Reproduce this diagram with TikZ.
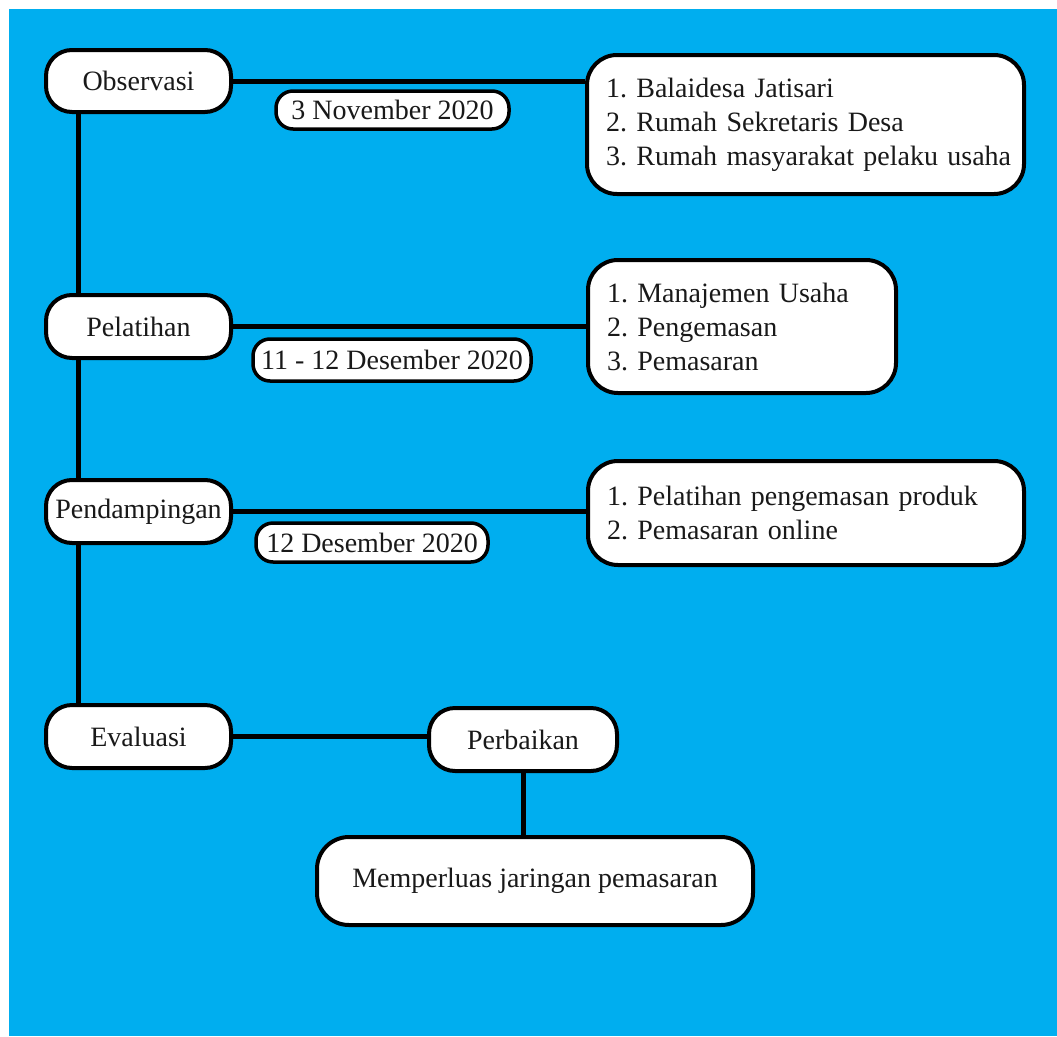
\documentclass[tikz,border=0pt]{standalone}
\usepackage{fontspec}
\setmainfont{Liberation Serif}
\frenchspacing
\hyphenpenalty=10000
\hbadness=10000
\hfuzz=50pt
\definecolor{bgblue}{RGB}{0,174,239}
\definecolor{txt}{RGB}{25,25,25}
\begin{document}
\begin{tikzpicture}[x=1pt,y=-1pt,
  base/.style={draw=black,fill=white,line width=4pt,inner sep=0pt,text=txt,
    font=\fontsize{28}{34}\selectfont},
  stage/.style={base,rounded corners=26pt,minimum width=185pt,minimum height=62pt},
  listbox/.style={base,rounded corners=30pt,inner xsep=19pt,inner ysep=0pt,align=left},
  datebox/.style={base,line width=3.5pt,rounded corners=17pt},
  conn/.style={line width=5pt,draw=black}]
\useasboundingbox (0,0) rectangle (1057,1036);
\fill[white] (0,0) rectangle (1057,1036);
\fill[bgblue] (9,9) rectangle (1057,1036);
\coordinate (vx) at (78,0);
% stages
\node[stage] (obs) at (138.5,81) {Observasi};
\node[stage,minimum height=63pt] (pel) at (138.5,326.5) {Pelatihan};
\node[stage,minimum height=63pt] (pen) at (138.5,511.5) {Pendampingan};
\node[stage,minimum height=63pt] (eva) at (138.5,736.5) {Evaluasi};
\node[stage,minimum width=188pt,minimum height=63pt] (per) at (523,739.5) {Perbaikan};
\node[base,rounded corners=32pt,minimum width=436pt,minimum height=88pt] (mem) at (535,881) {Memperluas jaringan pemasaran};
% lists
\node[listbox,text width=399pt,minimum height=139pt] (r1) at (805.5,124.5)
  {\mbox{1. Balaidesa Jatisari}\\\mbox{2. Rumah Sekretaris Desa}\\\mbox{3. Rumah masyarakat pelaku usaha}};
\node[listbox,text width=270pt,minimum height=133pt] (r2) at (742,326.5)
  {\mbox{1. Manajemen Usaha}\\\mbox{2. Pengemasan}\\\mbox{3. Pemasaran}};
\node[listbox,text width=398pt,minimum height=104pt] (r3) at (806,513)
  {\mbox{1. Pelatihan pengemasan produk}\\\mbox{2. Pemasaran online}};
% dates
\node[datebox,minimum width=233pt,minimum height=38pt] (d1) at (392.5,110) {3 November 2020};
\node[datebox,minimum width=278pt,minimum height=42pt] (d2) at (392,360) {11 - 12 Desember 2020};
\node[datebox,minimum width=232pt,minimum height=39pt] (d3) at (372,542.5) {12 Desember 2020};
% connectors
\draw[conn] (obs.south -| vx) -- (pel.north -| vx);
\draw[conn] (pel.south -| vx) -- (pen.north -| vx);
\draw[conn] (pen.south -| vx) -- (eva.north -| vx);
\draw[conn] (obs.east) -- (obs.east -| r1.west);
\draw[conn] (pel.east) -- (pel.east -| r2.west);
\draw[conn] (pen.east) -- (pen.east -| r3.west);
\draw[conn] (eva.east) -- (eva.east -| per.west);
\draw[conn] (per.south) -- (per.south |- mem.north);
\end{tikzpicture}
\end{document}
